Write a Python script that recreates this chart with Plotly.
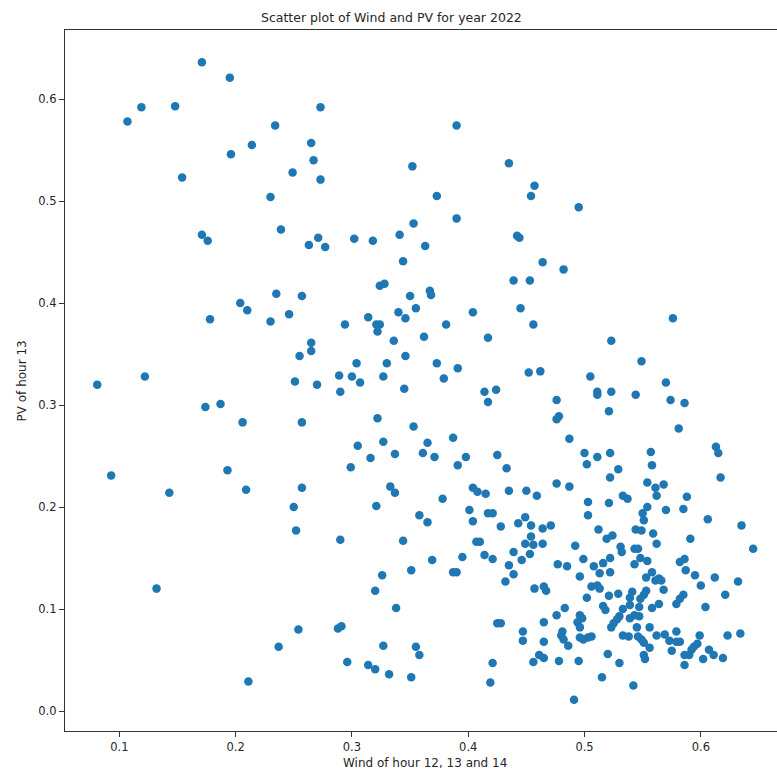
import plotly.graph_objects as go

# Daily pairs: mean wind of hours 12-14 vs PV of hour 13 (2022)
wind = [
    0.107, 0.119, 0.148, 0.171, 0.195, 0.234, 0.214, 0.196, 0.249, 0.154, 0.230,
    0.273, 0.265, 0.267, 0.273, 0.390, 0.352, 0.373, 0.435, 0.457, 0.454,
    0.495,
    0.171, 0.176, 0.239, 0.235, 0.257, 0.204, 0.210, 0.178, 0.230, 0.246, 0.255, 0.081, 0.122, 0.251,
    0.263, 0.271, 0.277, 0.302, 0.318, 0.341, 0.353, 0.390, 0.363, 0.442, 0.444, 0.464, 0.344, 0.324,
    0.328, 0.350, 0.367, 0.368, 0.355, 0.340, 0.346, 0.314, 0.321, 0.324, 0.322, 0.294, 0.381, 0.404,
    0.439, 0.453, 0.445, 0.456, 0.417, 0.362, 0.336, 0.265, 0.265, 0.346, 0.304, 0.330, 0.373, 0.391,
    0.379, 0.289, 0.300, 0.307, 0.327, 0.270, 0.452, 0.462,
    0.482, 0.576, 0.523, 0.549, 0.505, 0.570,
    0.174, 0.187, 0.206, 0.257, 0.093, 0.143, 0.193, 0.209, 0.257, 0.250, 0.252,
    0.290, 0.345, 0.414, 0.417, 0.424, 0.322, 0.353, 0.305, 0.327, 0.316, 0.337, 0.299, 0.365, 0.361,
    0.371, 0.387, 0.398, 0.391, 0.425, 0.433, 0.333, 0.337, 0.321, 0.378, 0.404, 0.408, 0.415, 0.435,
    0.450, 0.459, 0.401, 0.417, 0.421, 0.358, 0.365, 0.404, 0.428, 0.443, 0.449, 0.454, 0.464, 0.290,
    0.344, 0.407, 0.410, 0.449, 0.454, 0.456, 0.464, 0.439, 0.453, 0.446, 0.414, 0.421, 0.395, 0.369,
    0.435,
    0.511, 0.511, 0.523, 0.544, 0.574, 0.586, 0.476, 0.478, 0.476, 0.521, 0.581, 0.487, 0.500, 0.511,
    0.522, 0.502, 0.557, 0.558, 0.529, 0.522, 0.613, 0.615, 0.617, 0.476, 0.487, 0.554, 0.561, 0.568,
    0.562, 0.503, 0.521, 0.533, 0.537, 0.588, 0.585, 0.570, 0.554, 0.550, 0.551, 0.503, 0.606, 0.635,
    0.471, 0.512, 0.544, 0.549, 0.559, 0.519, 0.524, 0.562, 0.591, 0.645, 0.492, 0.531, 0.532, 0.543,
    0.546, 0.499, 0.522, 0.516, 0.508, 0.477, 0.485, 0.548, 0.554, 0.543, 0.582, 0.586,
    0.465, 0.467, 0.496, 0.513, 0.522, 0.506, 0.511, 0.513, 0.502, 0.521, 0.529, 0.541, 0.539, 0.548,
    0.551, 0.553, 0.553, 0.558, 0.561, 0.564, 0.566, 0.568, 0.587, 0.595, 0.600, 0.612, 0.632, 0.621,
    0.604, 0.579, 0.582, 0.585, 0.564, 0.558, 0.547, 0.533, 0.539, 0.516, 0.518, 0.483, 0.476, 0.465,
    0.496, 0.498, 0.494, 0.496, 0.530, 0.528, 0.525, 0.523, 0.539, 0.543, 0.547, 0.545, 0.556, 0.481,
    0.480, 0.482, 0.486, 0.465, 0.496, 0.499, 0.503, 0.506, 0.533, 0.538, 0.546, 0.549, 0.551, 0.556,
    0.562, 0.569, 0.573, 0.575, 0.579, 0.579, 0.582, 0.599, 0.597, 0.594, 0.592, 0.590, 0.586, 0.586,
    0.602, 0.607, 0.611, 0.619, 0.623, 0.634, 0.551, 0.552, 0.530, 0.520, 0.495, 0.478, 0.465, 0.515,
    0.542, 0.491,
    0.326, 0.351, 0.387, 0.390, 0.439, 0.432, 0.457, 0.320, 0.338, 0.288, 0.291, 0.425, 0.428, 0.447,
    0.447, 0.461, 0.456, 0.327, 0.355, 0.358, 0.296, 0.314, 0.320, 0.332, 0.351, 0.421, 0.419,
    0.132, 0.254, 0.237, 0.211,
]

pv = [
    0.578, 0.592, 0.593, 0.636, 0.621, 0.574, 0.555, 0.546, 0.528, 0.523, 0.504,
    0.592, 0.557, 0.540, 0.521, 0.574, 0.534, 0.505, 0.537, 0.515, 0.505,
    0.494,
    0.467, 0.461, 0.472, 0.409, 0.407, 0.400, 0.393, 0.384, 0.382, 0.389, 0.348, 0.320, 0.328, 0.323,
    0.457, 0.464, 0.455, 0.463, 0.461, 0.467, 0.478, 0.483, 0.456, 0.466, 0.464, 0.440, 0.441, 0.417,
    0.419, 0.407, 0.412, 0.408, 0.395, 0.391, 0.385, 0.386, 0.379, 0.379, 0.372, 0.379, 0.379, 0.391,
    0.422, 0.422, 0.395, 0.379, 0.366, 0.367, 0.363, 0.361, 0.353, 0.348, 0.341, 0.341, 0.341, 0.336,
    0.326, 0.329, 0.328, 0.322, 0.328, 0.320, 0.332, 0.333,
    0.433, 0.385, 0.363, 0.343, 0.328, 0.322,
    0.298, 0.301, 0.283, 0.283, 0.231, 0.214, 0.236, 0.217, 0.219, 0.200, 0.177,
    0.313, 0.316, 0.313, 0.303, 0.315, 0.287, 0.279, 0.260, 0.264, 0.248, 0.252, 0.239, 0.263, 0.253,
    0.249, 0.268, 0.249, 0.241, 0.251, 0.238, 0.220, 0.214, 0.201, 0.208, 0.219, 0.215, 0.213, 0.216,
    0.216, 0.211, 0.197, 0.194, 0.194, 0.192, 0.185, 0.186, 0.181, 0.184, 0.190, 0.182, 0.179, 0.168,
    0.167, 0.166, 0.166, 0.164, 0.171, 0.163, 0.164, 0.156, 0.154, 0.148, 0.153, 0.149, 0.151, 0.148,
    0.143,
    0.313, 0.310, 0.313, 0.310, 0.305, 0.302, 0.305, 0.289, 0.286, 0.294, 0.277, 0.267, 0.253, 0.249,
    0.253, 0.242, 0.254, 0.241, 0.237, 0.229, 0.259, 0.253, 0.229, 0.223, 0.220, 0.224, 0.219, 0.222,
    0.211, 0.205, 0.204, 0.211, 0.208, 0.210, 0.198, 0.197, 0.200, 0.194, 0.187, 0.192, 0.188, 0.182,
    0.182, 0.178, 0.178, 0.177, 0.174, 0.169, 0.172, 0.164, 0.169, 0.159, 0.162, 0.161, 0.156, 0.159,
    0.159, 0.149, 0.150, 0.145, 0.142, 0.144, 0.142, 0.150, 0.147, 0.144, 0.146, 0.149,
    0.122, 0.118, 0.132, 0.135, 0.136, 0.122, 0.123, 0.120, 0.111, 0.113, 0.115, 0.117, 0.111, 0.110,
    0.114, 0.118, 0.131, 0.136, 0.128, 0.130, 0.128, 0.119, 0.138, 0.133, 0.123, 0.131, 0.127, 0.114,
    0.102, 0.105, 0.110, 0.114, 0.105, 0.101, 0.102, 0.100, 0.104, 0.103, 0.099, 0.101, 0.094, 0.087,
    0.094, 0.091, 0.087, 0.082, 0.093, 0.090, 0.086, 0.082, 0.091, 0.094, 0.093, 0.082, 0.082, 0.078,
    0.074, 0.070, 0.064, 0.068, 0.072, 0.070, 0.072, 0.073, 0.074, 0.073, 0.073, 0.070, 0.067, 0.062,
    0.074, 0.075, 0.069, 0.059, 0.068, 0.078, 0.068, 0.074, 0.066, 0.063, 0.060, 0.055, 0.055, 0.045,
    0.051, 0.060, 0.055, 0.052, 0.074, 0.076, 0.055, 0.051, 0.047, 0.056, 0.049, 0.049, 0.052, 0.033,
    0.025, 0.011,
    0.133, 0.138, 0.136, 0.136, 0.134, 0.127, 0.120, 0.118, 0.101, 0.081, 0.083, 0.086, 0.086, 0.078,
    0.069, 0.055, 0.048, 0.064, 0.063, 0.055, 0.048, 0.045, 0.041, 0.036, 0.033, 0.047, 0.028,
    0.120, 0.080, 0.063, 0.029,
]

x_ticks = [0.1, 0.2, 0.3, 0.4, 0.5, 0.6]
y_ticks = [0.0, 0.1, 0.2, 0.3, 0.4, 0.5, 0.6]

title_text = "Scatter plot of Wind and PV for year 2022"
x_label = "Wind of hour 12, 13 and 14"
y_label = "PV of hour 13"

FONT = "DejaVu Sans"
INK = "#262626"

fig = go.Figure(
    go.Scatter(
        x=wind, y=pv, mode="markers",
        marker=dict(color="#1f77b4", size=8.5, line=dict(width=0)),
        hoverinfo="x+y",
    )
)

fig.update_layout(
    width=777, height=774,
    margin=dict(l=65, r=0, t=30, b=43),
    paper_bgcolor="white", plot_bgcolor="white",
    showlegend=False,
    font=dict(family=FONT, size=11.5, color=INK),
    xaxis=dict(
        range=[0.0533, 0.6655], tickvals=x_ticks, tickformat=".1f",
        showgrid=False, zeroline=False,
        showline=True, linecolor="#333333", linewidth=1.2, mirror=True,
        ticks="outside", ticklen=5, tickwidth=1, tickcolor="#333333",
        tickfont=dict(family=FONT, size=11.5, color=INK),
    ),
    yaxis=dict(
        range=[-0.0196, 0.6677], tickvals=y_ticks, tickformat=".1f",
        showgrid=False, zeroline=False,
        showline=True, linecolor="#333333", linewidth=1.2, mirror=False,
        ticks="outside", ticklen=5, tickwidth=1, tickcolor="#333333",
        tickfont=dict(family=FONT, size=11.5, color=INK),
    ),
    annotations=[
        dict(text=title_text, xref="paper", yref="paper", x=0.4579, y=1.0185,
             xanchor="center", yanchor="middle", showarrow=False,
             font=dict(family=FONT, size=12.5, color=INK)),
        dict(text=x_label, xref="paper", yref="paper", x=0.5056, y=-0.0456,
             xanchor="center", yanchor="middle", showarrow=False,
             font=dict(family=FONT, size=12, color=INK)),
        dict(text=y_label, xref="paper", yref="paper", x=-0.0604, y=0.5,
             xanchor="center", yanchor="middle", showarrow=False, textangle=-90,
             font=dict(family=FONT, size=12, color=INK)),
    ],
)

fig.write_html("out.html")
